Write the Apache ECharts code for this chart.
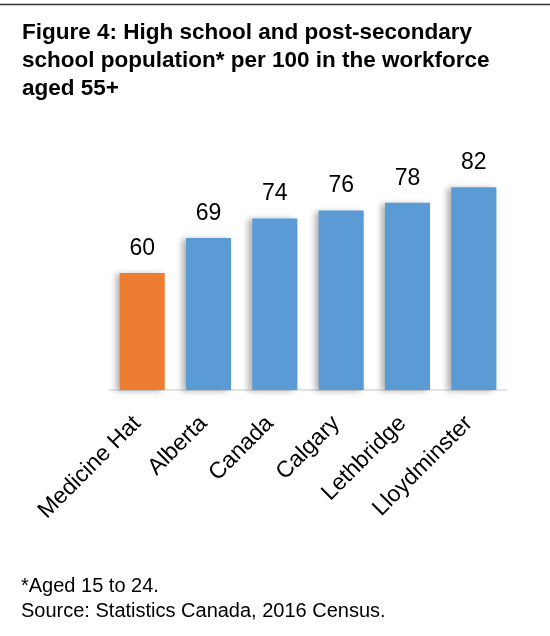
<!DOCTYPE html>
<html>
<head>
<meta charset="utf-8">
<script src="https://cdn.jsdelivr.net/npm/echarts@6/dist/echarts.min.js"></script>
<style>
  html, body { margin: 0; padding: 0; background: #fff; }
  #chart { width: 550px; height: 636px; }
</style>
</head>
<body>
<div id="chart"></div>
<script>
// data
const lugares = ["Medicine Hat", "Alberta", "Canada", "Calgary", "Lethbridge", "Lloydminster"];
const valores = [60, 69, 74, 76, 78, 82];
const colores = ["#ED7D31", "#5B9BD5", "#5B9BD5", "#5B9BD5", "#5B9BD5", "#5B9BD5"];

const titulo = "Figure 4: High school and post-secondary\nschool population* per 100 in the workforce\naged 55+";
const nota = "*Aged 15 to 24.\nSource: Statistics Canada, 2016 Census.";

let myChart = echarts.init(document.getElementById("chart"));

let option = {
  animation: false,
  textStyle: { fontFamily: "Liberation Sans, Arial, sans-serif" },
  title: [
    {
      text: titulo,
      left: 17,
      top: 14,
      textStyle: { fontSize: 22.5, fontWeight: "bold", color: "#000", lineHeight: 28 },
    },
    {
      text: nota,
      left: 16,
      top: 569,
      textStyle: { fontSize: 20, fontWeight: "normal", color: "#000", lineHeight: 25 },
    },
  ],
  graphic: [
    {
      type: "line",
      shape: { x1: 0, y1: 4.5, x2: 550, y2: 4.5 },
      style: { stroke: "#333", lineWidth: 1.5 },
    },
  ],
  grid: { left: 109, right: 43, top: 117, bottom: 246 },
  xAxis: {
    type: "category",
    data: lugares,
    axisLine: { lineStyle: { color: "#d9d9d9", width: 1.5 } },
    axisTick: { show: false },
    axisLabel: {
      rotate: 45,
      interval: 0,
      margin: 25,
      padding: [0, 7, 0, 0],
      fontSize: 23,
      color: "#000",
    },
  },
  yAxis: {
    type: "value",
    min: 30,
    max: 100,
    show: false,
  },
  series: [
    {
      type: "bar",
      barWidth: "68%",
      data: valores.map((v, i) => ({ value: v, itemStyle: { color: colores[i] } })),
      itemStyle: {
        shadowBlur: 6,
        shadowOffsetX: -4,
        shadowOffsetY: 1,
        shadowColor: "rgba(0, 0, 0, 0.3)",
      },
      label: {
        show: true,
        position: "top",
        distance: 13,
        fontSize: 23,
        color: "#000",
      },
    },
  ],
};
option && myChart.setOption(option);
</script>
</body>
</html>
